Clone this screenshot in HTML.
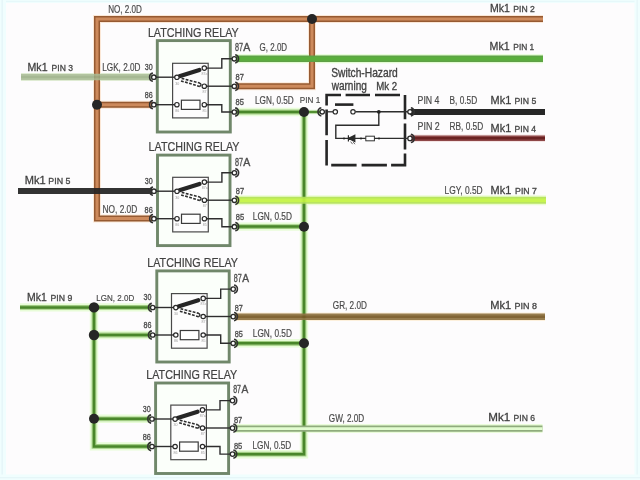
<!DOCTYPE html>
<html><head><meta charset="utf-8"><style>
html,body{margin:0;padding:0;background:#fdfcfd;}
svg{display:block;font-family:"Liberation Sans",sans-serif;}
</style></head><body>
<svg width="640" height="480" viewBox="0 0 640 480">
<defs><filter id="bl" x="-5%" y="-5%" width="110%" height="110%"><feGaussianBlur stdDeviation="0.5"/></filter></defs>
<rect x="0" y="0" width="640" height="480" fill="#fdfcfd"/>
<rect x="0" y="0" width="640" height="3" fill="#f0fefe"/>
<rect x="0" y="0.8" width="640" height="1.2" fill="#e6f8fa"/>
<rect x="0" y="0" width="6" height="480" fill="#f0fefe"/>
<rect x="1.5" y="0" width="1.3" height="480" fill="#e4f4f8"/>
<rect x="634.5" y="0" width="5.5" height="480" fill="#f0fefe"/>
<rect x="636.5" y="0" width="1.3" height="480" fill="#e6f6f8"/>
<rect x="0" y="474.5" width="640" height="5.5" fill="#f0fefe"/>
<rect x="0" y="477" width="640" height="1.3" fill="#e6f6f8"/>
<g filter="url(#bl)">
<path d="M543.00,19.00 L97.00,19.00 L97.00,218.60 L152.00,218.60" stroke="#fbe7d6" stroke-width="8" fill="none"/>
<path d="M97.00,104.80 L152.00,104.80" stroke="#fbe7d6" stroke-width="8" fill="none"/>
<path d="M312.00,19.00 L312.00,86.30 L236.00,86.30" stroke="#fbe7d6" stroke-width="8" fill="none"/>
<path d="M236.00,58.80 L543.00,58.80" stroke="#e2fcd2" stroke-width="9" fill="none"/>
<path d="M236.00,112.00 L304.00,112.00" stroke="#e8fcd8" stroke-width="8.4" fill="none"/>
<path d="M304.00,112.00 L304.00,454.20 L234.50,454.20" stroke="#e8fcd8" stroke-width="8.4" fill="none"/>
<path d="M236.00,226.60 L304.00,226.60" stroke="#e8fcd8" stroke-width="8.4" fill="none"/>
<path d="M235.00,343.30 L304.00,343.30" stroke="#e8fcd8" stroke-width="8.4" fill="none"/>
<path d="M304.00,112.00 L322.00,112.00" stroke="#dff4d0" stroke-width="4.5" fill="none"/>
<path d="M21.00,77.00 L152.00,77.00" stroke="#eef8e4" stroke-width="8" fill="none"/>
<path d="M236.00,200.20 L546.00,200.20" stroke="#ecfcd4" stroke-width="10" fill="none"/>
<path d="M235.00,316.70 L545.00,316.70" stroke="#fdf0dc" stroke-width="8.5" fill="none"/>
<path d="M234.50,428.60 L542.50,428.60" stroke="#eafcda" stroke-width="9" fill="none"/>
<path d="M20.00,307.40 L151.00,307.40" stroke="#e8fcd8" stroke-width="8.4" fill="none"/>
<path d="M94.00,307.40 L94.00,446.40 L150.50,446.40" stroke="#e8fcd8" stroke-width="8.4" fill="none"/>
<path d="M94.00,335.00 L151.00,335.00" stroke="#e8fcd8" stroke-width="8.4" fill="none"/>
<path d="M94.00,418.80 L150.50,418.80" stroke="#e8fcd8" stroke-width="8.4" fill="none"/>
<path d="M410.00,138.20 L545.00,138.20" stroke="#f4e4e4" stroke-width="7.5" fill="none"/>
<g><path d="M543.00,19.00 L97.00,19.00 L97.00,218.60 L152.00,218.60" stroke="#965a30" stroke-width="6" fill="none"/><path d="M543.00,19.00 L97.00,19.00 L97.00,218.60 L152.00,218.60" stroke="#cd8a5c" stroke-width="3.0" fill="none"/></g>
<g><path d="M97.00,104.80 L152.00,104.80" stroke="#965a30" stroke-width="6" fill="none"/><path d="M97.00,104.80 L152.00,104.80" stroke="#cd8a5c" stroke-width="3.0" fill="none"/></g>
<g><path d="M312.00,19.00 L312.00,86.30 L236.00,86.30" stroke="#965a30" stroke-width="6" fill="none"/><path d="M312.00,19.00 L312.00,86.30 L236.00,86.30" stroke="#cd8a5c" stroke-width="3.0" fill="none"/></g>
<g><path d="M236.00,58.80 L543.00,58.80" stroke="#5f9f47" stroke-width="6.6" fill="none"/><path d="M236.00,58.80 L543.00,58.80" stroke="#5aae3c" stroke-width="4" fill="none"/></g>
<g><path d="M236.00,112.00 L304.00,112.00" stroke="#a0cc82" stroke-width="4.8" fill="none"/><path d="M236.00,112.00 L304.00,112.00" stroke="#4a862a" stroke-width="2.5" fill="none"/></g>
<g><path d="M304.00,112.00 L304.00,454.20 L234.50,454.20" stroke="#a0cc82" stroke-width="4.8" fill="none"/><path d="M304.00,112.00 L304.00,454.20 L234.50,454.20" stroke="#4a862a" stroke-width="2.5" fill="none"/></g>
<g><path d="M236.00,226.60 L304.00,226.60" stroke="#a0cc82" stroke-width="4.8" fill="none"/><path d="M236.00,226.60 L304.00,226.60" stroke="#4a862a" stroke-width="2.5" fill="none"/></g>
<g><path d="M235.00,343.30 L304.00,343.30" stroke="#a0cc82" stroke-width="4.8" fill="none"/><path d="M235.00,343.30 L304.00,343.30" stroke="#4a862a" stroke-width="2.5" fill="none"/></g>
<g><path d="M304.00,112.00 L322.00,112.00" stroke="#9cc884" stroke-width="3.0" fill="none"/><path d="M304.00,112.00 L322.00,112.00" stroke="#4b8a2a" stroke-width="1.8" fill="none"/></g>
<g opacity="0.85"><path d="M21.00,77.00 L152.00,77.00" stroke="#a9bc95" stroke-width="6.4" fill="none"/><path d="M21.00,77.00 L152.00,77.00" stroke="#9aad86" stroke-width="2.5" fill="none"/></g>
<g opacity="0.93"><path d="M18.00,191.00 L152.00,191.00" stroke="#252525" stroke-width="6.2" fill="none"/></g>
<g opacity="0.92"><path d="M236.00,200.20 L546.00,200.20" stroke="#b4e258" stroke-width="7" fill="none"/><path d="M236.00,200.20 L546.00,200.20" stroke="#c4f444" stroke-width="3.5" fill="none"/></g>
<g opacity="0.92"><path d="M235.00,316.70 L545.00,316.70" stroke="#8f7444" stroke-width="6.4" fill="none"/><path d="M235.00,316.70 L545.00,316.70" stroke="#785a26" stroke-width="2.6" fill="none"/></g>
<g><path d="M234.50,428.60 L542.50,428.60" stroke="#8fac7c" stroke-width="6.4" fill="none"/><path d="M234.50,428.60 L542.50,428.60" stroke="#e2fcd0" stroke-width="2.6" fill="none"/></g>
<g><path d="M20.00,307.40 L151.00,307.40" stroke="#a0cc82" stroke-width="4.8" fill="none"/><path d="M20.00,307.40 L151.00,307.40" stroke="#4a862a" stroke-width="2.5" fill="none"/></g>
<g><path d="M94.00,307.40 L94.00,446.40 L150.50,446.40" stroke="#a0cc82" stroke-width="4.8" fill="none"/><path d="M94.00,307.40 L94.00,446.40 L150.50,446.40" stroke="#4a862a" stroke-width="2.5" fill="none"/></g>
<g><path d="M94.00,335.00 L151.00,335.00" stroke="#a0cc82" stroke-width="4.8" fill="none"/><path d="M94.00,335.00 L151.00,335.00" stroke="#4a862a" stroke-width="2.5" fill="none"/></g>
<g><path d="M94.00,418.80 L150.50,418.80" stroke="#a0cc82" stroke-width="4.8" fill="none"/><path d="M94.00,418.80 L150.50,418.80" stroke="#4a862a" stroke-width="2.5" fill="none"/></g>
<g><path d="M410.00,112.00 L545.00,112.00" stroke="#252525" stroke-width="6.2" fill="none"/></g>
<g><path d="M410.00,138.20 L545.00,138.20" stroke="#8e4646" stroke-width="5.6" fill="none"/><path d="M410.00,138.20 L545.00,138.20" stroke="#6a2222" stroke-width="2.6" fill="none"/></g>
<circle cx="97.00" cy="104.80" r="5.0" fill="#252525"/>
<circle cx="312.00" cy="19.00" r="5.0" fill="#252525"/>
<circle cx="304.00" cy="112.00" r="5.0" fill="#252525"/>
<circle cx="304.00" cy="226.80" r="5.0" fill="#252525"/>
<circle cx="304.00" cy="343.30" r="5.0" fill="#252525"/>
<circle cx="94.00" cy="307.40" r="5.2" fill="#252525"/>
<circle cx="94.00" cy="335.00" r="5.2" fill="#252525"/>
<circle cx="94.00" cy="418.80" r="5.0" fill="#252525"/>
<text x="147.90" y="37.40" font-size="12.60" textLength="90.75" lengthAdjust="spacingAndGlyphs" fill="#424242" stroke="#424242" stroke-width="0.22" font-weight="normal">LATCHING RELAY</text>
<rect x="157.3" y="40.6" width="73.00" height="91.40" fill="#fbfffa" stroke="#70876a" stroke-width="2.9"/>
<g transform="translate(0,0)">
<rect x="172.6" y="63.3" width="35.6" height="54.6" fill="#fdfdfd" stroke="#4a4a4a" stroke-width="1.2"/>
<path d="M153.8,77.2 L177,77.2" stroke="#2e2e2e" stroke-width="1.4" fill="none"/>
<path d="M153.8,104.7 L177,104.7" stroke="#2e2e2e" stroke-width="1.4" fill="none"/>
<path d="M204.3,68.1 L221.8,68.1 L221.8,58.8 L234.2,58.8" stroke="#2e2e2e" stroke-width="1.4" fill="none"/>
<path d="M204.3,86.2 L234.2,86.2" stroke="#2e2e2e" stroke-width="1.4" fill="none"/>
<path d="M204.3,104.7 L221.8,104.7 L221.8,112.0 L234.2,112.0" stroke="#2e2e2e" stroke-width="1.4" fill="none"/>
<rect x="181.4" y="100.2" width="18.6" height="9.2" fill="#fff" stroke="#3a3a3a" stroke-width="1.2"/>
<path d="M179.4,76.2 L199.4,69.9" stroke="#252525" stroke-width="4.2" stroke-linecap="round" fill="none"/>
<path d="M181.6,78.4 L199.6,83.0" stroke="#2e2e2e" stroke-width="1.6" stroke-dasharray="2.8,1.4" fill="none"/>
<path d="M181.0,80.9 L199.6,86.4" stroke="#2e2e2e" stroke-width="1.6" stroke-dasharray="2.8,1.4" fill="none"/>
<path d="M199.2,82.9 Q202.8,84.6 199.4,86.6" stroke="#2e2e2e" stroke-width="1.3" fill="none"/>
<circle cx="176.9" cy="77.3" r="2.2" fill="#fff" stroke="#2a2a2a" stroke-width="1.2"/>
<circle cx="204.3" cy="68.1" r="2.2" fill="#fff" stroke="#2a2a2a" stroke-width="1.2"/>
<circle cx="204.3" cy="86.2" r="2.2" fill="#fff" stroke="#2a2a2a" stroke-width="1.2"/>
<circle cx="176.9" cy="104.7" r="2.2" fill="#fff" stroke="#2a2a2a" stroke-width="1.2"/>
<circle cx="204.3" cy="104.7" r="2.2" fill="#fff" stroke="#2a2a2a" stroke-width="1.2"/>
<text x="175.2" y="84.6" font-size="3.6" fill="#9a9a9a">30</text>
<text x="201.6" y="75.2" font-size="3.6" fill="#9a9a9a">87a</text>
<text x="202.6" y="93.2" font-size="3.6" fill="#9a9a9a">87</text>
<text x="175.2" y="112.0" font-size="3.6" fill="#9a9a9a">86</text>
<text x="202.6" y="112.0" font-size="3.6" fill="#9a9a9a">85</text>
<path d="M152.93,81.31 A4.2,4.2 0 0 1 152.93,73.09" stroke="#333" stroke-width="1.6" fill="none"/>
<circle cx="153.8" cy="77.2" r="2.2" fill="#fff" stroke="#2a2a2a" stroke-width="1.3"/>
<path d="M152.93,108.81 A4.2,4.2 0 0 1 152.93,100.59" stroke="#333" stroke-width="1.6" fill="none"/>
<circle cx="153.8" cy="104.7" r="2.2" fill="#fff" stroke="#2a2a2a" stroke-width="1.3"/>
<path d="M235.17,54.69 A4.2,4.2 0 0 1 235.17,62.91" stroke="#333" stroke-width="1.6" fill="none"/>
<circle cx="234.3" cy="58.8" r="2.2" fill="#fff" stroke="#2a2a2a" stroke-width="1.3"/>
<path d="M235.17,82.19 A4.2,4.2 0 0 1 235.17,90.41" stroke="#333" stroke-width="1.6" fill="none"/>
<circle cx="234.3" cy="86.3" r="2.2" fill="#fff" stroke="#2a2a2a" stroke-width="1.3"/>
<path d="M235.17,107.89 A4.2,4.2 0 0 1 235.17,116.11" stroke="#333" stroke-width="1.6" fill="none"/>
<circle cx="234.3" cy="112.0" r="2.2" fill="#fff" stroke="#2a2a2a" stroke-width="1.3"/>
</g>
<text x="144.70" y="70.00" font-size="9.60" textLength="7.90" lengthAdjust="spacingAndGlyphs" fill="#4e4e4e" stroke="#4e4e4e" stroke-width="0.35" font-weight="normal">30</text>
<text x="144.70" y="98.00" font-size="9.60" textLength="7.90" lengthAdjust="spacingAndGlyphs" fill="#4e4e4e" stroke="#4e4e4e" stroke-width="0.35" font-weight="normal">86</text>
<text x="235.60" y="79.80" font-size="9.60" textLength="8.35" lengthAdjust="spacingAndGlyphs" fill="#4e4e4e" stroke="#4e4e4e" stroke-width="0.35" font-weight="normal">87</text>
<text x="235.60" y="104.80" font-size="9.60" textLength="8.35" lengthAdjust="spacingAndGlyphs" fill="#4e4e4e" stroke="#4e4e4e" stroke-width="0.35" font-weight="normal">85</text>
<text x="234.90" y="51.20" font-size="10.20" textLength="8.00" lengthAdjust="spacingAndGlyphs" fill="#4e4e4e" stroke="#4e4e4e" stroke-width="0.35" font-weight="normal">87</text>
<text x="243.15" y="51.20" font-size="10.20" textLength="7.05" lengthAdjust="spacingAndGlyphs" fill="#4e4e4e" stroke="#4e4e4e" stroke-width="0.35" font-weight="normal">A</text>
<text x="148.60" y="151.00" font-size="12.60" textLength="90.85" lengthAdjust="spacingAndGlyphs" fill="#424242" stroke="#424242" stroke-width="0.22" font-weight="normal">LATCHING RELAY</text>
<rect x="157.5" y="155.1" width="72.50" height="90.50" fill="#fbfffa" stroke="#70876a" stroke-width="2.9"/>
<g transform="translate(0.1,114.0)">
<rect x="172.6" y="63.3" width="35.6" height="54.6" fill="#fdfdfd" stroke="#4a4a4a" stroke-width="1.2"/>
<path d="M153.8,77.2 L177,77.2" stroke="#2e2e2e" stroke-width="1.4" fill="none"/>
<path d="M153.8,104.7 L177,104.7" stroke="#2e2e2e" stroke-width="1.4" fill="none"/>
<path d="M204.3,68.1 L221.8,68.1 L221.8,58.8 L234.2,58.8" stroke="#2e2e2e" stroke-width="1.4" fill="none"/>
<path d="M204.3,86.2 L234.2,86.2" stroke="#2e2e2e" stroke-width="1.4" fill="none"/>
<path d="M204.3,104.7 L221.8,104.7 L221.8,112.7 L234.2,112.7" stroke="#2e2e2e" stroke-width="1.4" fill="none"/>
<rect x="181.4" y="100.2" width="18.6" height="9.2" fill="#fff" stroke="#3a3a3a" stroke-width="1.2"/>
<path d="M179.4,76.2 L199.4,69.9" stroke="#252525" stroke-width="4.2" stroke-linecap="round" fill="none"/>
<path d="M181.6,78.4 L199.6,83.0" stroke="#2e2e2e" stroke-width="1.6" stroke-dasharray="2.8,1.4" fill="none"/>
<path d="M181.0,80.9 L199.6,86.4" stroke="#2e2e2e" stroke-width="1.6" stroke-dasharray="2.8,1.4" fill="none"/>
<path d="M199.2,82.9 Q202.8,84.6 199.4,86.6" stroke="#2e2e2e" stroke-width="1.3" fill="none"/>
<circle cx="176.9" cy="77.3" r="2.2" fill="#fff" stroke="#2a2a2a" stroke-width="1.2"/>
<circle cx="204.3" cy="68.1" r="2.2" fill="#fff" stroke="#2a2a2a" stroke-width="1.2"/>
<circle cx="204.3" cy="86.2" r="2.2" fill="#fff" stroke="#2a2a2a" stroke-width="1.2"/>
<circle cx="176.9" cy="104.7" r="2.2" fill="#fff" stroke="#2a2a2a" stroke-width="1.2"/>
<circle cx="204.3" cy="104.7" r="2.2" fill="#fff" stroke="#2a2a2a" stroke-width="1.2"/>
<text x="175.2" y="84.6" font-size="3.6" fill="#9a9a9a">30</text>
<text x="201.6" y="75.2" font-size="3.6" fill="#9a9a9a">87a</text>
<text x="202.6" y="93.2" font-size="3.6" fill="#9a9a9a">87</text>
<text x="175.2" y="112.0" font-size="3.6" fill="#9a9a9a">86</text>
<text x="202.6" y="112.0" font-size="3.6" fill="#9a9a9a">85</text>
<path d="M152.93,81.31 A4.2,4.2 0 0 1 152.93,73.09" stroke="#333" stroke-width="1.6" fill="none"/>
<circle cx="153.8" cy="77.2" r="2.2" fill="#fff" stroke="#2a2a2a" stroke-width="1.3"/>
<path d="M152.93,108.81 A4.2,4.2 0 0 1 152.93,100.59" stroke="#333" stroke-width="1.6" fill="none"/>
<circle cx="153.8" cy="104.7" r="2.2" fill="#fff" stroke="#2a2a2a" stroke-width="1.3"/>
<path d="M235.17,54.69 A4.2,4.2 0 0 1 235.17,62.91" stroke="#333" stroke-width="1.6" fill="none"/>
<circle cx="234.3" cy="58.8" r="2.2" fill="#fff" stroke="#2a2a2a" stroke-width="1.3"/>
<path d="M235.17,82.19 A4.2,4.2 0 0 1 235.17,90.41" stroke="#333" stroke-width="1.6" fill="none"/>
<circle cx="234.3" cy="86.3" r="2.2" fill="#fff" stroke="#2a2a2a" stroke-width="1.3"/>
<path d="M235.17,108.59 A4.2,4.2 0 0 1 235.17,116.81" stroke="#333" stroke-width="1.6" fill="none"/>
<circle cx="234.3" cy="112.7" r="2.2" fill="#fff" stroke="#2a2a2a" stroke-width="1.3"/>
</g>
<text x="144.85" y="184.00" font-size="9.60" textLength="7.90" lengthAdjust="spacingAndGlyphs" fill="#4e4e4e" stroke="#4e4e4e" stroke-width="0.35" font-weight="normal">30</text>
<text x="144.60" y="212.60" font-size="9.60" textLength="8.15" lengthAdjust="spacingAndGlyphs" fill="#4e4e4e" stroke="#4e4e4e" stroke-width="0.35" font-weight="normal">86</text>
<text x="235.75" y="193.80" font-size="9.60" textLength="8.35" lengthAdjust="spacingAndGlyphs" fill="#4e4e4e" stroke="#4e4e4e" stroke-width="0.35" font-weight="normal">87</text>
<text x="235.75" y="220.20" font-size="9.60" textLength="8.35" lengthAdjust="spacingAndGlyphs" fill="#4e4e4e" stroke="#4e4e4e" stroke-width="0.35" font-weight="normal">85</text>
<text x="235.05" y="165.50" font-size="10.20" textLength="8.00" lengthAdjust="spacingAndGlyphs" fill="#4e4e4e" stroke="#4e4e4e" stroke-width="0.35" font-weight="normal">87</text>
<text x="243.30" y="165.50" font-size="10.20" textLength="7.05" lengthAdjust="spacingAndGlyphs" fill="#4e4e4e" stroke="#4e4e4e" stroke-width="0.35" font-weight="normal">A</text>
<text x="147.30" y="267.30" font-size="12.60" textLength="90.70" lengthAdjust="spacingAndGlyphs" fill="#424242" stroke="#424242" stroke-width="0.22" font-weight="normal">LATCHING RELAY</text>
<rect x="156.8" y="270.9" width="72.40" height="91.10" fill="#fbfffa" stroke="#70876a" stroke-width="2.9"/>
<g transform="translate(-1.1,230.3)">
<rect x="172.6" y="63.3" width="35.6" height="54.6" fill="#fdfdfd" stroke="#4a4a4a" stroke-width="1.2"/>
<path d="M153.8,77.2 L177,77.2" stroke="#2e2e2e" stroke-width="1.4" fill="none"/>
<path d="M153.8,104.7 L177,104.7" stroke="#2e2e2e" stroke-width="1.4" fill="none"/>
<path d="M204.3,68.1 L221.8,68.1 L221.8,58.8 L234.2,58.8" stroke="#2e2e2e" stroke-width="1.4" fill="none"/>
<path d="M204.3,86.2 L234.2,86.2" stroke="#2e2e2e" stroke-width="1.4" fill="none"/>
<path d="M204.3,104.7 L221.8,104.7 L221.8,113.0 L234.2,113.0" stroke="#2e2e2e" stroke-width="1.4" fill="none"/>
<rect x="181.4" y="100.2" width="18.6" height="9.2" fill="#fff" stroke="#3a3a3a" stroke-width="1.2"/>
<path d="M179.4,76.2 L199.4,69.9" stroke="#252525" stroke-width="4.2" stroke-linecap="round" fill="none"/>
<path d="M181.6,78.4 L199.6,83.0" stroke="#2e2e2e" stroke-width="1.6" stroke-dasharray="2.8,1.4" fill="none"/>
<path d="M181.0,80.9 L199.6,86.4" stroke="#2e2e2e" stroke-width="1.6" stroke-dasharray="2.8,1.4" fill="none"/>
<path d="M199.2,82.9 Q202.8,84.6 199.4,86.6" stroke="#2e2e2e" stroke-width="1.3" fill="none"/>
<circle cx="176.9" cy="77.3" r="2.2" fill="#fff" stroke="#2a2a2a" stroke-width="1.2"/>
<circle cx="204.3" cy="68.1" r="2.2" fill="#fff" stroke="#2a2a2a" stroke-width="1.2"/>
<circle cx="204.3" cy="86.2" r="2.2" fill="#fff" stroke="#2a2a2a" stroke-width="1.2"/>
<circle cx="176.9" cy="104.7" r="2.2" fill="#fff" stroke="#2a2a2a" stroke-width="1.2"/>
<circle cx="204.3" cy="104.7" r="2.2" fill="#fff" stroke="#2a2a2a" stroke-width="1.2"/>
<text x="175.2" y="84.6" font-size="3.6" fill="#9a9a9a">30</text>
<text x="201.6" y="75.2" font-size="3.6" fill="#9a9a9a">87a</text>
<text x="202.6" y="93.2" font-size="3.6" fill="#9a9a9a">87</text>
<text x="175.2" y="112.0" font-size="3.6" fill="#9a9a9a">86</text>
<text x="202.6" y="112.0" font-size="3.6" fill="#9a9a9a">85</text>
<path d="M152.93,81.31 A4.2,4.2 0 0 1 152.93,73.09" stroke="#333" stroke-width="1.6" fill="none"/>
<circle cx="153.8" cy="77.2" r="2.2" fill="#fff" stroke="#2a2a2a" stroke-width="1.3"/>
<path d="M152.93,108.81 A4.2,4.2 0 0 1 152.93,100.59" stroke="#333" stroke-width="1.6" fill="none"/>
<circle cx="153.8" cy="104.7" r="2.2" fill="#fff" stroke="#2a2a2a" stroke-width="1.3"/>
<path d="M235.17,54.69 A4.2,4.2 0 0 1 235.17,62.91" stroke="#333" stroke-width="1.6" fill="none"/>
<circle cx="234.3" cy="58.8" r="2.2" fill="#fff" stroke="#2a2a2a" stroke-width="1.3"/>
<path d="M235.17,82.19 A4.2,4.2 0 0 1 235.17,90.41" stroke="#333" stroke-width="1.6" fill="none"/>
<circle cx="234.3" cy="86.3" r="2.2" fill="#fff" stroke="#2a2a2a" stroke-width="1.3"/>
<path d="M235.17,108.89 A4.2,4.2 0 0 1 235.17,117.11" stroke="#333" stroke-width="1.6" fill="none"/>
<circle cx="234.3" cy="113.0" r="2.2" fill="#fff" stroke="#2a2a2a" stroke-width="1.3"/>
</g>
<text x="143.55" y="299.80" font-size="9.60" textLength="7.90" lengthAdjust="spacingAndGlyphs" fill="#4e4e4e" stroke="#4e4e4e" stroke-width="0.35" font-weight="normal">30</text>
<text x="143.55" y="328.30" font-size="9.60" textLength="7.90" lengthAdjust="spacingAndGlyphs" fill="#4e4e4e" stroke="#4e4e4e" stroke-width="0.35" font-weight="normal">86</text>
<text x="234.70" y="310.50" font-size="9.60" textLength="8.10" lengthAdjust="spacingAndGlyphs" fill="#4e4e4e" stroke="#4e4e4e" stroke-width="0.35" font-weight="normal">87</text>
<text x="234.70" y="337.20" font-size="9.60" textLength="8.10" lengthAdjust="spacingAndGlyphs" fill="#4e4e4e" stroke="#4e4e4e" stroke-width="0.35" font-weight="normal">85</text>
<text x="233.75" y="281.50" font-size="10.20" textLength="8.00" lengthAdjust="spacingAndGlyphs" fill="#4e4e4e" stroke="#4e4e4e" stroke-width="0.35" font-weight="normal">87</text>
<text x="242.25" y="281.50" font-size="10.20" textLength="6.80" lengthAdjust="spacingAndGlyphs" fill="#4e4e4e" stroke="#4e4e4e" stroke-width="0.35" font-weight="normal">A</text>
<text x="146.25" y="378.90" font-size="12.60" textLength="91.05" lengthAdjust="spacingAndGlyphs" fill="#424242" stroke="#424242" stroke-width="0.22" font-weight="normal">LATCHING RELAY</text>
<rect x="155.6" y="383.0" width="73.00" height="90.50" fill="#fbfffa" stroke="#70876a" stroke-width="2.9"/>
<g transform="translate(-1.8,341.8)">
<rect x="172.6" y="63.3" width="35.6" height="54.6" fill="#fdfdfd" stroke="#4a4a4a" stroke-width="1.2"/>
<path d="M153.8,77.2 L177,77.2" stroke="#2e2e2e" stroke-width="1.4" fill="none"/>
<path d="M153.8,104.7 L177,104.7" stroke="#2e2e2e" stroke-width="1.4" fill="none"/>
<path d="M204.3,68.1 L221.8,68.1 L221.8,58.8 L234.2,58.8" stroke="#2e2e2e" stroke-width="1.4" fill="none"/>
<path d="M204.3,86.2 L234.2,86.2" stroke="#2e2e2e" stroke-width="1.4" fill="none"/>
<path d="M204.3,104.7 L221.8,104.7 L221.8,112.3 L234.2,112.3" stroke="#2e2e2e" stroke-width="1.4" fill="none"/>
<rect x="181.4" y="100.2" width="18.6" height="9.2" fill="#fff" stroke="#3a3a3a" stroke-width="1.2"/>
<path d="M179.4,76.2 L199.4,69.9" stroke="#252525" stroke-width="4.2" stroke-linecap="round" fill="none"/>
<path d="M181.6,78.4 L199.6,83.0" stroke="#2e2e2e" stroke-width="1.6" stroke-dasharray="2.8,1.4" fill="none"/>
<path d="M181.0,80.9 L199.6,86.4" stroke="#2e2e2e" stroke-width="1.6" stroke-dasharray="2.8,1.4" fill="none"/>
<path d="M199.2,82.9 Q202.8,84.6 199.4,86.6" stroke="#2e2e2e" stroke-width="1.3" fill="none"/>
<circle cx="176.9" cy="77.3" r="2.2" fill="#fff" stroke="#2a2a2a" stroke-width="1.2"/>
<circle cx="204.3" cy="68.1" r="2.2" fill="#fff" stroke="#2a2a2a" stroke-width="1.2"/>
<circle cx="204.3" cy="86.2" r="2.2" fill="#fff" stroke="#2a2a2a" stroke-width="1.2"/>
<circle cx="176.9" cy="104.7" r="2.2" fill="#fff" stroke="#2a2a2a" stroke-width="1.2"/>
<circle cx="204.3" cy="104.7" r="2.2" fill="#fff" stroke="#2a2a2a" stroke-width="1.2"/>
<text x="175.2" y="84.6" font-size="3.6" fill="#9a9a9a">30</text>
<text x="201.6" y="75.2" font-size="3.6" fill="#9a9a9a">87a</text>
<text x="202.6" y="93.2" font-size="3.6" fill="#9a9a9a">87</text>
<text x="175.2" y="112.0" font-size="3.6" fill="#9a9a9a">86</text>
<text x="202.6" y="112.0" font-size="3.6" fill="#9a9a9a">85</text>
<path d="M152.93,81.31 A4.2,4.2 0 0 1 152.93,73.09" stroke="#333" stroke-width="1.6" fill="none"/>
<circle cx="153.8" cy="77.2" r="2.2" fill="#fff" stroke="#2a2a2a" stroke-width="1.3"/>
<path d="M152.93,108.81 A4.2,4.2 0 0 1 152.93,100.59" stroke="#333" stroke-width="1.6" fill="none"/>
<circle cx="153.8" cy="104.7" r="2.2" fill="#fff" stroke="#2a2a2a" stroke-width="1.3"/>
<path d="M235.17,54.69 A4.2,4.2 0 0 1 235.17,62.91" stroke="#333" stroke-width="1.6" fill="none"/>
<circle cx="234.3" cy="58.8" r="2.2" fill="#fff" stroke="#2a2a2a" stroke-width="1.3"/>
<path d="M235.17,82.19 A4.2,4.2 0 0 1 235.17,90.41" stroke="#333" stroke-width="1.6" fill="none"/>
<circle cx="234.3" cy="86.3" r="2.2" fill="#fff" stroke="#2a2a2a" stroke-width="1.3"/>
<path d="M235.17,108.19 A4.2,4.2 0 0 1 235.17,116.41" stroke="#333" stroke-width="1.6" fill="none"/>
<circle cx="234.3" cy="112.3" r="2.2" fill="#fff" stroke="#2a2a2a" stroke-width="1.3"/>
</g>
<text x="142.75" y="411.80" font-size="9.60" textLength="7.90" lengthAdjust="spacingAndGlyphs" fill="#4e4e4e" stroke="#4e4e4e" stroke-width="0.35" font-weight="normal">30</text>
<text x="142.75" y="439.80" font-size="9.60" textLength="8.15" lengthAdjust="spacingAndGlyphs" fill="#4e4e4e" stroke="#4e4e4e" stroke-width="0.35" font-weight="normal">86</text>
<text x="233.90" y="422.50" font-size="9.60" textLength="8.35" lengthAdjust="spacingAndGlyphs" fill="#4e4e4e" stroke="#4e4e4e" stroke-width="0.35" font-weight="normal">87</text>
<text x="233.90" y="448.70" font-size="9.60" textLength="8.35" lengthAdjust="spacingAndGlyphs" fill="#4e4e4e" stroke="#4e4e4e" stroke-width="0.35" font-weight="normal">85</text>
<text x="233.20" y="393.00" font-size="10.20" textLength="7.75" lengthAdjust="spacingAndGlyphs" fill="#4e4e4e" stroke="#4e4e4e" stroke-width="0.35" font-weight="normal">87</text>
<text x="241.45" y="393.00" font-size="10.20" textLength="6.80" lengthAdjust="spacingAndGlyphs" fill="#4e4e4e" stroke="#4e4e4e" stroke-width="0.35" font-weight="normal">A</text>
<path d="M326.6,105.5 L326.6,95 L341,95 M345.6,95 L370,95 M375,95 L400,95" stroke="#262626" stroke-width="2.6" fill="none"/>
<path d="M326.6,109.5 L326.6,135.2 M326.6,140 L326.6,165.5 M331.2,165.1 L356.6,165.1 M361.6,165.1 L386.9,165.1 M391.1,165.1 L405.0,165.1 L405.0,153.6 M405.0,149.6 L405.0,123.4 M405.0,119.2 L405.0,95" stroke="#262626" stroke-width="2.6" fill="none"/>
<path d="M326,111.8 L333,111.8" stroke="#2e2e2e" stroke-width="1.3"/>
<path d="M335,104.6 L353.4,104.6" stroke="#262626" stroke-width="2.6"/>
<path d="M355.4,111.8 L408,111.8" stroke="#2e2e2e" stroke-width="1.4"/>
<path d="M378.8,111.8 L378.8,125.2 L335.8,125.2 L335.8,138.4 L408,138.4" stroke="#2e2e2e" stroke-width="1.4" fill="none"/>
<circle cx="378.8" cy="111.8" r="1.9" fill="#222"/>
<circle cx="335.3" cy="111.8" r="2.2" fill="#fff" stroke="#2a2a2a" stroke-width="1.2"/>
<circle cx="353.0" cy="111.8" r="2.2" fill="#fff" stroke="#2a2a2a" stroke-width="1.2"/>
<path d="M348.4,135.2 L348.4,141.6 M348.6,138.4 L354.8,135.2 L354.8,141.6 Z" stroke="#2a2a2a" stroke-width="1.2" fill="#2a2a2a"/>
<path d="M350.6,141.6 L352.6,144.2 M353,141.8 L355,144.2" stroke="#444" stroke-width="0.8"/>
<rect x="365.8" y="136.2" width="8.6" height="4.6" fill="#fff" stroke="#333" stroke-width="1"/>
<circle cx="344" cy="138.4" r="1" fill="#222"/><circle cx="361" cy="138.4" r="1" fill="#222"/><circle cx="379" cy="138.4" r="1" fill="#222"/>
<path d="M321.33,115.91 A4.2,4.2 0 0 1 321.33,107.69" stroke="#333" stroke-width="1.6" fill="none"/>
<circle cx="322.2" cy="111.8" r="2.2" fill="#fff" stroke="#2a2a2a" stroke-width="1.3"/>
<path d="M410.87,107.69 A4.2,4.2 0 0 1 410.87,115.91" stroke="#333" stroke-width="1.6" fill="none"/>
<circle cx="410.0" cy="111.8" r="2.2" fill="#fff" stroke="#2a2a2a" stroke-width="1.3"/>
<path d="M410.87,134.29 A4.2,4.2 0 0 1 410.87,142.51" stroke="#333" stroke-width="1.6" fill="none"/>
<circle cx="410.0" cy="138.4" r="2.2" fill="#fff" stroke="#2a2a2a" stroke-width="1.3"/>
<text x="108.20" y="12.80" font-size="10.00" textLength="33.70" lengthAdjust="spacingAndGlyphs" fill="#494949" stroke="#494949" stroke-width="0.18" font-weight="normal">NO, 2.0D</text>
<text x="489.90" y="11.90" font-size="11.80" textLength="19.85" lengthAdjust="spacingAndGlyphs" fill="#3e3e3e" stroke="#3e3e3e" stroke-width="0.3" font-weight="normal">Mk1</text>
<text x="513.35" y="11.90" font-size="9.00" textLength="21.55" lengthAdjust="spacingAndGlyphs" fill="#474747" stroke="#474747" stroke-width="0.32" font-weight="normal">PIN 2</text>
<text x="259.60" y="51.20" font-size="10.00" textLength="27.50" lengthAdjust="spacingAndGlyphs" fill="#494949" stroke="#494949" stroke-width="0.18" font-weight="normal">G, 2.0D</text>
<text x="489.60" y="50.20" font-size="11.80" textLength="20.10" lengthAdjust="spacingAndGlyphs" fill="#3e3e3e" stroke="#3e3e3e" stroke-width="0.3" font-weight="normal">Mk1</text>
<text x="513.35" y="50.20" font-size="9.00" textLength="20.90" lengthAdjust="spacingAndGlyphs" fill="#474747" stroke="#474747" stroke-width="0.32" font-weight="normal">PIN 1</text>
<text x="27.55" y="70.90" font-size="11.80" textLength="20.00" lengthAdjust="spacingAndGlyphs" fill="#3e3e3e" stroke="#3e3e3e" stroke-width="0.3" font-weight="normal">Mk1</text>
<text x="51.55" y="70.90" font-size="9.00" textLength="21.40" lengthAdjust="spacingAndGlyphs" fill="#474747" stroke="#474747" stroke-width="0.32" font-weight="normal">PIN 3</text>
<text x="102.20" y="70.80" font-size="10.00" textLength="38.35" lengthAdjust="spacingAndGlyphs" fill="#494949" stroke="#494949" stroke-width="0.18" font-weight="normal">LGK, 2.0D</text>
<text x="331.15" y="77.00" font-size="12.00" textLength="66.65" lengthAdjust="spacingAndGlyphs" fill="#424242" stroke="#424242" stroke-width="0.35" font-weight="normal">Switch-Hazard</text>
<text x="331.65" y="90.30" font-size="12.00" textLength="35.20" lengthAdjust="spacingAndGlyphs" fill="#424242" stroke="#424242" stroke-width="0.35" font-weight="normal">warning</text>
<text x="376.35" y="90.10" font-size="11.60" textLength="20.85" lengthAdjust="spacingAndGlyphs" fill="#424242" stroke="#424242" stroke-width="0.35" font-weight="normal">Mk 2</text>
<text x="255.05" y="103.60" font-size="10.00" textLength="38.70" lengthAdjust="spacingAndGlyphs" fill="#494949" stroke="#494949" stroke-width="0.18" font-weight="normal">LGN, 0.5D</text>
<text x="299.85" y="103.20" font-size="9.80" textLength="20.40" lengthAdjust="spacingAndGlyphs" fill="#494949" stroke="#494949" stroke-width="0.18" font-weight="normal">PIN 1</text>
<text x="417.55" y="103.60" font-size="10.00" textLength="21.90" lengthAdjust="spacingAndGlyphs" fill="#494949" stroke="#494949" stroke-width="0.18" font-weight="normal">PIN 4</text>
<text x="449.55" y="103.60" font-size="10.00" textLength="27.65" lengthAdjust="spacingAndGlyphs" fill="#494949" stroke="#494949" stroke-width="0.18" font-weight="normal">B, 0.5D</text>
<text x="490.60" y="104.40" font-size="11.80" textLength="20.65" lengthAdjust="spacingAndGlyphs" fill="#3e3e3e" stroke="#3e3e3e" stroke-width="0.3" font-weight="normal">Mk1</text>
<text x="514.55" y="104.40" font-size="9.00" textLength="21.70" lengthAdjust="spacingAndGlyphs" fill="#474747" stroke="#474747" stroke-width="0.32" font-weight="normal">PIN 5</text>
<text x="417.55" y="130.40" font-size="10.00" textLength="22.15" lengthAdjust="spacingAndGlyphs" fill="#494949" stroke="#494949" stroke-width="0.18" font-weight="normal">PIN 2</text>
<text x="449.55" y="130.40" font-size="10.00" textLength="33.65" lengthAdjust="spacingAndGlyphs" fill="#494949" stroke="#494949" stroke-width="0.18" font-weight="normal">RB, 0.5D</text>
<text x="490.60" y="132.40" font-size="11.80" textLength="20.65" lengthAdjust="spacingAndGlyphs" fill="#3e3e3e" stroke="#3e3e3e" stroke-width="0.3" font-weight="normal">Mk1</text>
<text x="514.55" y="132.40" font-size="9.00" textLength="21.45" lengthAdjust="spacingAndGlyphs" fill="#474747" stroke="#474747" stroke-width="0.32" font-weight="normal">PIN 4</text>
<text x="24.80" y="184.40" font-size="11.80" textLength="20.90" lengthAdjust="spacingAndGlyphs" fill="#3e3e3e" stroke="#3e3e3e" stroke-width="0.3" font-weight="normal">Mk1</text>
<text x="48.35" y="184.40" font-size="9.00" textLength="22.10" lengthAdjust="spacingAndGlyphs" fill="#474747" stroke="#474747" stroke-width="0.32" font-weight="normal">PIN 5</text>
<text x="444.55" y="193.60" font-size="10.00" textLength="38.15" lengthAdjust="spacingAndGlyphs" fill="#494949" stroke="#494949" stroke-width="0.18" font-weight="normal">LGY, 0.5D</text>
<text x="490.60" y="193.70" font-size="11.80" textLength="20.65" lengthAdjust="spacingAndGlyphs" fill="#3e3e3e" stroke="#3e3e3e" stroke-width="0.3" font-weight="normal">Mk1</text>
<text x="515.05" y="193.70" font-size="9.00" textLength="21.90" lengthAdjust="spacingAndGlyphs" fill="#474747" stroke="#474747" stroke-width="0.32" font-weight="normal">PIN 7</text>
<text x="102.55" y="212.80" font-size="10.00" textLength="34.65" lengthAdjust="spacingAndGlyphs" fill="#494949" stroke="#494949" stroke-width="0.18" font-weight="normal">NO, 2.0D</text>
<text x="252.85" y="220.40" font-size="10.00" textLength="39.05" lengthAdjust="spacingAndGlyphs" fill="#494949" stroke="#494949" stroke-width="0.18" font-weight="normal">LGN, 0.5D</text>
<text x="27.05" y="300.50" font-size="11.80" textLength="19.70" lengthAdjust="spacingAndGlyphs" fill="#3e3e3e" stroke="#3e3e3e" stroke-width="0.3" font-weight="normal">Mk1</text>
<text x="50.55" y="300.50" font-size="9.00" textLength="21.70" lengthAdjust="spacingAndGlyphs" fill="#474747" stroke="#474747" stroke-width="0.32" font-weight="normal">PIN 9</text>
<text x="96.35" y="300.50" font-size="9.60" textLength="37.90" lengthAdjust="spacingAndGlyphs" fill="#494949" stroke="#494949" stroke-width="0.18" font-weight="normal">LGN, 2.0D</text>
<text x="332.80" y="309.00" font-size="10.00" textLength="34.10" lengthAdjust="spacingAndGlyphs" fill="#494949" stroke="#494949" stroke-width="0.18" font-weight="normal">GR, 2.0D</text>
<text x="490.30" y="309.10" font-size="11.80" textLength="20.90" lengthAdjust="spacingAndGlyphs" fill="#3e3e3e" stroke="#3e3e3e" stroke-width="0.3" font-weight="normal">Mk1</text>
<text x="514.55" y="309.10" font-size="9.00" textLength="22.40" lengthAdjust="spacingAndGlyphs" fill="#474747" stroke="#474747" stroke-width="0.32" font-weight="normal">PIN 8</text>
<text x="252.85" y="337.00" font-size="10.00" textLength="39.05" lengthAdjust="spacingAndGlyphs" fill="#494949" stroke="#494949" stroke-width="0.18" font-weight="normal">LGN, 0.5D</text>
<text x="328.80" y="422.30" font-size="10.00" textLength="35.40" lengthAdjust="spacingAndGlyphs" fill="#494949" stroke="#494949" stroke-width="0.18" font-weight="normal">GW, 2.0D</text>
<text x="488.30" y="420.90" font-size="11.80" textLength="21.90" lengthAdjust="spacingAndGlyphs" fill="#3e3e3e" stroke="#3e3e3e" stroke-width="0.3" font-weight="normal">Mk1</text>
<text x="513.55" y="420.90" font-size="9.00" textLength="21.40" lengthAdjust="spacingAndGlyphs" fill="#474747" stroke="#474747" stroke-width="0.32" font-weight="normal">PIN 6</text>
<text x="252.50" y="448.80" font-size="10.00" textLength="38.70" lengthAdjust="spacingAndGlyphs" fill="#494949" stroke="#494949" stroke-width="0.18" font-weight="normal">LGN, 0.5D</text>
</g>
</svg>
</body></html>
